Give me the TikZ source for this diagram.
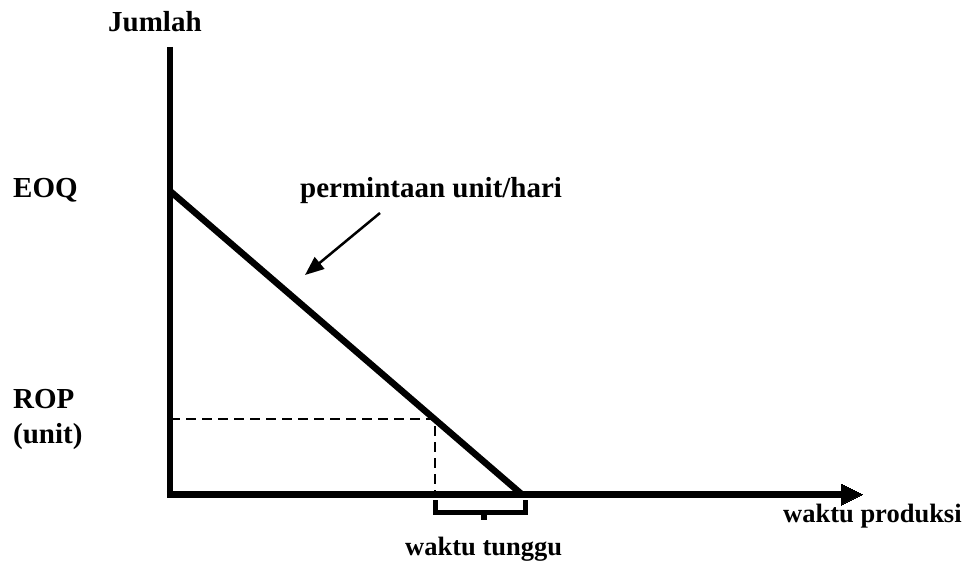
\documentclass[tikz,border=0pt]{standalone}
\usepackage{fontspec}
\setmainfont{Liberation Serif}
\usetikzlibrary{arrows.meta}
\tikzset{
  axis/.style={line width=6.5pt, line cap=butt},
  demand/.style={line width=6.5pt},
  guide/.style={line width=1.8pt, dash pattern=on 10pt off 6pt},
  brace/.style={line width=5pt, line join=miter},
  pointer/.style={line width=2.5pt, -{Triangle[length=19pt,width=15pt]}},
  lbl/.style={anchor=base west, inner sep=0pt, font=\bfseries\fontsize{29}{34}\selectfont},
  lblsmall/.style={anchor=base west, inner sep=0pt, font=\bfseries\fontsize{26.5}{30}\selectfont},
}
\begin{document}
\begin{tikzpicture}[x=1pt,y=-1pt]
\useasboundingbox (0,0) rectangle (966,561);
% coordinates
\coordinate (O) at (170,494.5);
\coordinate (ytop) at (170,47);
\coordinate (xend) at (862,494.5);
\coordinate (eoq) at (170,191);
\coordinate (zero) at (522,494.5);
\coordinate (rop) at (435,419);
\coordinate (ropy) at (170,419);
\coordinate (ropx) at (435,494.5);
\coordinate (ps) at (380,213);
\coordinate (pe) at (305,275);
\coordinate (bl) at (435,500);
\coordinate (br) at (525.5,500);
\coordinate (bm) at (483.5,512.5);
\coordinate (bt) at (483.5,520);
% guides
\draw[guide] (ropy) -- (rop) -- (ropx);
% axes
\draw[axis] (ytop) -- (O|-zero) ++(-3.25,0) -- (841,494.5);
\draw[line width=0pt, fill=black] (841,484) -- (xend) -- (841,505) -- cycle;
% demand line
\draw[demand] (eoq) -- (zero);
% bracket
\draw[brace] (bl) -- (bl|-bm) -- (br|-bm) -- (br);
\draw[line width=6pt] (bm) -- (bt);
% pointer arrow
\draw[pointer] (ps) -- (pe);
% labels
\node[lbl] (jumlah) at (108,32) {Jumlah};
\node[lbl] (leoq) at (13,198) {EOQ};
\node[lbl] (lperm) at (300,198) {permintaan unit/hari};
\node[lbl] (lrop) at (13,408) {ROP};
\node[lbl] (lunit) at (13,443) {(unit)};
\node[lblsmall] (lwp) at (783,522) {waktu produksi};
\node[lblsmall] (lwt) at (405,555) {waktu tunggu};
\end{tikzpicture}
\end{document}
